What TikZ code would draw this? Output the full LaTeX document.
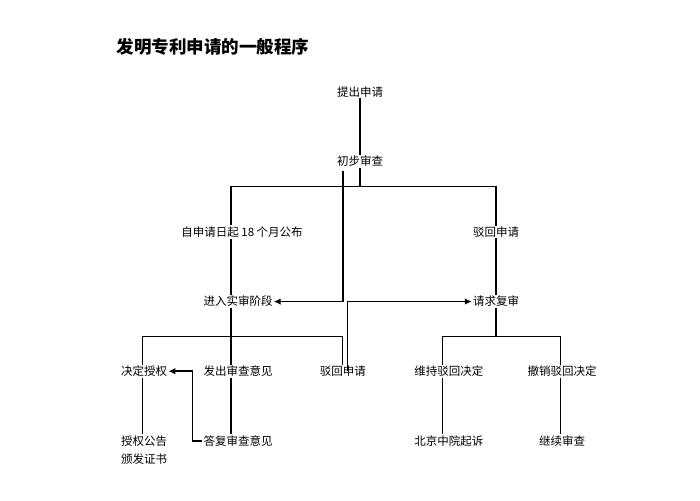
\documentclass[tikz,border=0pt]{standalone}
\usepackage{fontspec}
\setmainfont{Noto Sans CJK SC}
\usepackage{tikz}
\usetikzlibrary{shapes,arrows,arrows.meta,positioning,calc}

\begin{document}
\begin{tikzpicture}[x=1pt, y=1pt, node distance=56.5pt,
    lbl/.style={inner sep=1pt, font=\fontsize{11.5}{18}\selectfont, align=center},
    link/.style={line width=1.1pt},
    flow/.style={line width=1.6pt, -{Latex[length=7pt,width=6.5pt]}}]

    \useasboundingbox (0,0) rectangle (700,500);

    \node[anchor=west, font=\fontsize{17.5}{20}\selectfont\bfseries] (title) at (113,453) {发明专利申请的一般程序};

    \node[lbl] (apply) at (360,408) {提出申请};
    \node[lbl, below=of apply] (prelim) {初步审查};

    \node[lbl] (publish) at (242,268) {自申请日起 18 个月公布};
    \node[lbl] (reject1) at (496,268) {驳回申请};

    \node[lbl, below=of publish, xshift=-4pt] (substantive) {进入实审阶段};
    \node[lbl, below=of reject1] (review) {请求复审};

    \node[lbl, below=of substantive] (opinion) {发出审查意见};
    \node[lbl, left=34pt of opinion] (grant) {决定授权};
    \node[lbl, right=45pt of opinion] (reject2) {驳回申请};
    \node[lbl, right=46pt of reject2] (keep) {维持驳回决定};
    \node[lbl, right=42pt of keep] (revoke) {撤销驳回决定};

    \node[lbl, below=of grant] (notice) {授权公告\\颁发证书};
    \node[lbl, below=of opinion] (reply) {答复审查意见};
    \node[lbl, below=of keep] (court) {北京中院起诉};
    \node[lbl, below=of revoke] (cont) {继续审查};

    \draw[link] (apply) -- (prelim);
    \draw[link] (prelim.south) -- ++(0,-18) coordinate (split1);
    \draw[link] ([xshift=-11pt]publish.north) |- (split1) -| (reject1.north);
    \draw[link] ([xshift=-11pt]publish.south) -- ([xshift=-7pt]substantive.north);
    \draw[link] (reject1) -- (review);

    \draw[flow] ([xshift=-17pt, yshift=-3pt]prelim.south) |- (substantive.east);
    \draw[flow] ([xshift=4.5pt]reject2.center) |- (review.west);

    \path ($(substantive)!0.5!(opinion)$) coordinate (split2);
    \draw[link] ([xshift=-7pt]substantive.south) -- ([xshift=-7pt]opinion.north);
    \draw[link] ([xshift=-1.5pt]grant.north) |- (split2) -| (reject2.north);

    \path ($(review)!0.5!(keep)$) coordinate (split3);
    \draw[link] (review.south) -- (review |- split3);
    \draw[link] ([xshift=-6pt]keep.north) |- (split3) -| ([xshift=-2pt]revoke.north);

    \draw[link] ([xshift=-1.5pt]grant.south) -- ([xshift=-1.5pt]notice.north);
    \draw[link] ([xshift=-7pt]opinion.south) -- ([xshift=-7pt]reply.north);
    \draw[flow] (reply.west) -- ++(-10,0) |- (grant.east);
    \draw[link] ([xshift=-6pt]keep.south) -- ([xshift=-6pt]court.north);
    \draw[link] ([xshift=-2pt]revoke.south) -- ([xshift=-2pt]cont.north);

\end{tikzpicture}
\end{document}
